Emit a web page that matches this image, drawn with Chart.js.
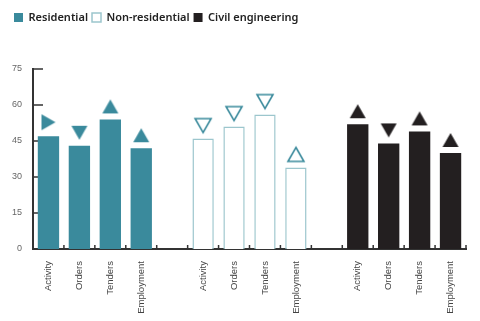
<!DOCTYPE html>
<html>
<head>
<meta charset="utf-8">
<script src="https://cdn.jsdelivr.net/npm/chart.js@4.4.1/dist/chart.umd.min.js"></script>
<style>
  html, body { margin: 0; padding: 0; background: #fff; }
  #wrap { width: 480px; height: 321px; }
</style>
</head>
<body>
<div id="wrap"><canvas id="chart"></canvas></div>
<script>
// Survey balances by sector
const metrics = ['Activity', 'Orders', 'Tenders', 'Employment'];
const residential = [47, 43, 54, 42];
const nonResidential = [46, 51, 56, 34];
const civilEngineering = [52, 44, 49, 40];

// direction of the change arrow above each bar
const residentialDir = ['right', 'down', 'up', 'up'];
const nonResidentialDir = ['down', 'down', 'down', 'up'];
const civilDir = ['up', 'down', 'up', 'up'];

const yTicks = [0, 15, 30, 45, 60, 75];

const TEAL = '#3a8a9c';
const LIGHT_TEAL = '#9cc6cd';
const DARK = '#231f20';

// 4 + gap + 4 + gap + 4 slots on the category axis
const labels = [...metrics, '', ...metrics, '', ...metrics];

function place(values, group) {
  const out = new Array(labels.length).fill(null);
  values.forEach((v, i) => { out[group * 5 + i] = v; });
  return out;
}

// arrow drawn into a small canvas, sitting just above the canvas centre,
// so the point can be placed right at the bar top
const markerCache = {};
function marker(dir, fill, stroke) {
  const key = dir + fill + stroke;
  if (markerCache[key]) return markerCache[key];
  const c = document.createElement('canvas');
  c.width = 20;
  c.height = 60;
  const g = c.getContext('2d');
  g.beginPath();
  if (dir === 'up') {
    g.moveTo(10, 10); g.lineTo(18, 24); g.lineTo(2, 24);
  } else if (dir === 'down') {
    g.moveTo(2, 10); g.lineTo(18, 10); g.lineTo(10, 24);
  } else {
    g.moveTo(3, 8); g.lineTo(17, 16); g.lineTo(3, 24);
  }
  g.closePath();
  g.fillStyle = fill;
  g.fill();
  if (stroke) {
    g.lineWidth = 1.6;
    g.strokeStyle = stroke;
    g.stroke();
  }
  markerCache[key] = c;
  return c;
}

function markerStyles(dirs, group, fill, stroke) {
  const out = new Array(labels.length).fill(marker('up', fill, stroke));
  dirs.forEach((d, i) => { out[group * 5 + i] = marker(d, fill, stroke); });
  return out;
}

function arrowSet(values, dirs, group, fill, stroke) {
  return {
    type: 'line',
    data: place(values, group),
    showLine: false,
    pointStyle: markerStyles(dirs, group, fill, stroke),
    pointRadius: 10,
    pointHoverRadius: 10,
    order: 0
  };
}

// inward ticks on both axes
const innerTicks = {
  id: 'innerTicks',
  beforeDatasetsDraw(chart) {
    const { ctx, scales: { x, y }, chartArea } = chart;
    ctx.save();
    ctx.strokeStyle = '#333';
    ctx.lineWidth = 1.5;
    ctx.beginPath();
    yTicks.forEach(v => {
      const py = y.getPixelForValue(v);
      ctx.moveTo(chartArea.left, py);
      ctx.lineTo(chartArea.left + 10, py);
    });
    for (let i = 0; i < labels.length; i++) {
      const px = x.getPixelForValue(i + 0.5);
      ctx.moveTo(px, chartArea.bottom);
      ctx.lineTo(px, chartArea.bottom - 4);
    }
    ctx.stroke();
    ctx.restore();
  }
};

// extra room between legend and plot
const legendGap = {
  id: 'legendGap',
  beforeInit(chart) {
    const fit = chart.legend.fit;
    chart.legend.fit = function () {
      fit.bind(chart.legend)();
      this.height += 36;
    };
  }
};

new Chart(document.getElementById('chart'), {
  type: 'bar',
  data: {
    labels: labels,
    datasets: [
      {
        label: 'Residential',
        data: place(residential, 0),
        backgroundColor: TEAL,
        borderWidth: 0,
        order: 1
      },
      {
        label: 'Non-residential',
        data: place(nonResidential, 1),
        backgroundColor: '#fff',
        borderColor: LIGHT_TEAL,
        borderWidth: 1.5,
        order: 1
      },
      {
        label: 'Civil engineering',
        data: place(civilEngineering, 2),
        backgroundColor: DARK,
        borderWidth: 0,
        order: 1
      },
      arrowSet(residential, residentialDir, 0, TEAL, null),
      arrowSet(nonResidential, nonResidentialDir, 1, '#fff', TEAL),
      arrowSet(civilEngineering, civilDir, 2, DARK, null)
    ]
  },
  options: {
    responsive: true,
    maintainAspectRatio: false,
    animation: false,
    grouped: false,
    categoryPercentage: 1,
    barPercentage: 0.69,
    layout: { padding: { top: 8, left: 10, right: 14, bottom: 0 } },
    plugins: {
      tooltip: { enabled: false },
      legend: {
        align: 'start',
        labels: {
          boxWidth: 9,
          boxHeight: 9,
          padding: 4,
          color: '#222',
          font: { family: 'Noto Sans', size: 11, weight: '600' },
          filter: item => item.datasetIndex < 3
        }
      }
    },
    scales: {
      x: {
        grid: { display: false, drawTicks: false },
        border: { display: true, color: '#333', width: 2 },
        afterFit(scale) { scale.height = 72; },
        ticks: {
          autoSkip: false,
          minRotation: 90,
          maxRotation: 90,
          padding: 12,
          color: '#444',
          font: { family: 'Liberation Sans', size: 9.5 }
        }
      },
      y: {
        min: 0,
        max: 75,
        grid: { display: false, drawTicks: false },
        border: { display: true, color: '#333', width: 2 },
        afterFit(scale) { scale.width = 23; },
        afterBuildTicks(scale) {
          scale.ticks = yTicks.map(v => ({ value: v }));
        },
        ticks: {
          padding: 11,
          color: '#666',
          font: { family: 'Liberation Sans', size: 9 }
        }
      }
    }
  },
  plugins: [innerTicks, legendGap]
});
</script>
</body>
</html>
